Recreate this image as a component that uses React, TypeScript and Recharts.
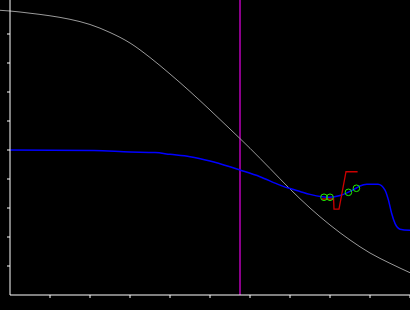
import React from 'react';
import { ComposedChart, Line, XAxis, YAxis, ReferenceLine, Scatter } from 'recharts';

// Gray (white) decreasing curve
const grayX = [-0.25, 0, 0.5, 1, 1.5, 2, 2.5, 3, 3.5, 4, 4.5, 5, 5.5, 6, 6.5, 7, 7.5, 8, 8.5, 9, 9.5, 10];
const grayY = [9.817, 9.793, 9.717, 9.628, 9.507, 9.328, 9.052, 8.690, 8.190, 7.621, 7.017, 6.379, 5.724, 5.059, 4.362, 3.655, 3.0, 2.414, 1.897, 1.448, 1.093, 0.769];

// Blue curve
const blueX = [0, 2.1, 3, 3.625, 4, 4.5, 5, 5.5, 5.75, 6.25, 6.75, 7, 7.25, 7.5, 7.8, 8, 8.25, 8.45, 8.65, 8.75, 8.92, 9.2, 9.375, 9.46, 9.54, 9.625, 9.75, 10];
const blueY = [5.0, 4.98, 4.93, 4.91, 4.85, 4.77, 4.62, 4.42, 4.31, 4.08, 3.79, 3.67, 3.57, 3.47, 3.39, 3.37, 3.43, 3.54, 3.68, 3.76, 3.82, 3.82, 3.62, 3.28, 2.82, 2.47, 2.27, 2.23];

// Red step segment
const redX = [7.8, 8.09, 8.1, 8.225, 8.4, 8.69];
const redY = [3.31, 3.31, 2.96, 2.96, 4.25, 4.25];

// Green markers
const markX = [7.85, 8.0, 8.46, 8.66];
const markY = [3.37, 3.37, 3.54, 3.68];

// Vertical marker position
const markerLineX = 5.75;

const xTicks = [1, 2, 3, 4, 5, 6, 7, 8, 9, 10];
const yTicks = [1, 2, 3, 4, 5, 6, 7, 8, 9];

const grayData = grayX.map((x, i) => ({ x, y: grayY[i] }));
const blueData = blueX.map((x, i) => ({ x, y: blueY[i] }));
const redData = redX.map((x, i) => ({ x, y: redY[i] }));
const markData = markX.map((x, i) => ({ x, y: markY[i] }));

const Ring = (props: any) => {
  const { cx, cy } = props;
  if (cx == null || cy == null) return null;
  return <circle cx={cx} cy={cy} r={3.3} fill="none" stroke="#22ee00" strokeWidth={1} />;
};

export default function App() {
  return (
    <div style={{ position: 'absolute', left: 0, top: 0, width: 410, height: 310, background: '#000' }}>
      <ComposedChart width={410} height={310} margin={{ top: 0, right: 0, bottom: 0, left: 0 }}>
        <XAxis
          type="number"
          dataKey="x"
          domain={[-0.25, 10]}
          padding={{ left: -10, right: 0 }}
          ticks={xTicks}
          tickFormatter={() => ''}
          tickSize={3}
          height={15}
          axisLine={{ stroke: '#fff', strokeWidth: 1 }}
          tickLine={{ stroke: '#fff', strokeWidth: 1 }}
        />
        <YAxis
          type="number"
          dataKey="y"
          domain={[0, 295 / 29]}
          ticks={yTicks}
          tickFormatter={() => ''}
          tickSize={3}
          width={10}
          axisLine={{ stroke: '#fff', strokeWidth: 1 }}
          tickLine={{ stroke: '#fff', strokeWidth: 1 }}
        />
        <ReferenceLine x={markerLineX} stroke="#8b008b" strokeWidth={2} />
        <Line data={grayData} dataKey="y" type="monotone" stroke="#9a9a9a" strokeWidth={1} dot={false} isAnimationActive={false} />
        <Line data={blueData} dataKey="y" type="monotone" stroke="#0000ff" strokeWidth={1.5} dot={false} isAnimationActive={false} />
        <Line data={redData} dataKey="y" type="linear" stroke="#cc0000" strokeWidth={1.3} dot={false} isAnimationActive={false} />
        <Scatter data={markData} dataKey="y" shape={<Ring />} isAnimationActive={false} />
      </ComposedChart>
    </div>
  );
}
